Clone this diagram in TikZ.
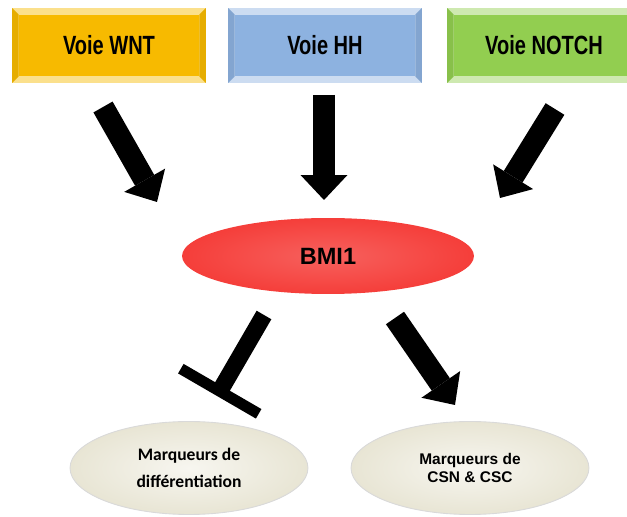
\documentclass[tikz,border=0pt]{standalone}
\usepackage{fontspec}
\setmainfont{Liberation Sans}
\newfontfamily\voiefont[FakeStretch=0.76]{Liberation Sans}
\newfontfamily\calfont{Carlito}
\usepackage{tikz}
\usetikzlibrary {arrows.meta}
\usetikzlibrary{shapes.geometric}

\definecolor{wntcol}{RGB}{247,186,0}
\definecolor{hhcol}{RGB}{141,178,224}
\definecolor{notchcol}{RGB}{146,206,80}
\definecolor{bmicol}{RGB}{245,62,58}
\definecolor{markcol}{RGB}{232,229,212}

\tikzset{
	voie/.style={rectangle, minimum width=3.88cm, minimum height=1.5cm, inner sep=0pt,
		fill=#1!45!white, font=\voiefont\bfseries\fontsize{15}{18}\selectfont,
		path picture={
			\fill[#1!93!black] (path picture bounding box.south west) -- ([shift={(0.13cm,0.13cm)}]path picture bounding box.south west)
				-- ([shift={(0.13cm,-0.13cm)}]path picture bounding box.north west) -- (path picture bounding box.north west) -- cycle;
			\fill[#1!93!black] (path picture bounding box.south east) -- ([shift={(-0.13cm,0.13cm)}]path picture bounding box.south east)
				-- ([shift={(-0.13cm,-0.13cm)}]path picture bounding box.north east) -- (path picture bounding box.north east) -- cycle;
			\fill[#1] ([shift={(0.13cm,0.13cm)}]path picture bounding box.south west) rectangle ([shift={(-0.13cm,-0.13cm)}]path picture bounding box.north east);
		}},
	bmi/.style={ellipse, minimum width=5.84cm, minimum height=1.52cm, inner sep=0pt,
		inner color=bmicol!82!white, outer color=bmicol, font=\bfseries\fontsize{13.4}{16}\selectfont},
	marq/.style={ellipse, minimum width=4.76cm, minimum height=1.86cm, inner sep=0pt, align=center,
		draw=black!15, line width=0.5pt, inner color=markcol!35!white, outer color=markcol},
	fleche/.style={line width=0.44cm, -{Triangle[width=0.94cm, length=0.5cm, line width'=0pt]}},
	inhib/.style={line width=0.34cm, -{Bar[width=1.8cm, line width'=0.22cm]}}
}

\begin{document}
\begin{tikzpicture}[x=0.02cm, y=-0.02cm]
	\clip (0,0) rectangle (627,517);

	\node[voie=wntcol] (wnt) at (109,45.5) {Voie WNT};
	\node[voie=hhcol] (hh) at (325,45.5) {Voie HH};
	\node[voie=notchcol] (notch) at (544,45.5) {Voie NOTCH};

	\node[bmi] (bmi) at (328,256) {BMI1};

	\node[marq, font=\calfont\bfseries\fontsize{10}{15.3}\selectfont] (diff) at (189,468) {Marqueurs de\\diff\'erentiation};
	\node[marq, font=\bfseries\fontsize{8.8}{10.2}\selectfont] (csn) at (470,468) {Marqueurs de\\CSN \& CSC};

	\coordinate (wntA) at (103,107);
	\coordinate (wntB) at (157,202);
	\coordinate (hhA) at (324,95);
	\coordinate (hhB) at (324,200);
	\coordinate (notchA) at (555,109);
	\coordinate (notchB) at (500,198);
	\coordinate (diffA) at (264,315);
	\coordinate (diffB) at (217,396);
	\coordinate (csnA) at (395,318);
	\coordinate (csnB) at (455,405);

	\draw[fleche] (wntA) -- (wntB);
	\draw[fleche] (hhA) -- (hhB);
	\draw[fleche] (notchA) -- (notchB);
	\draw[inhib] (diffA) -- (diffB);
	\draw[fleche] (csnA) -- (csnB);
\end{tikzpicture}
\end{document}
